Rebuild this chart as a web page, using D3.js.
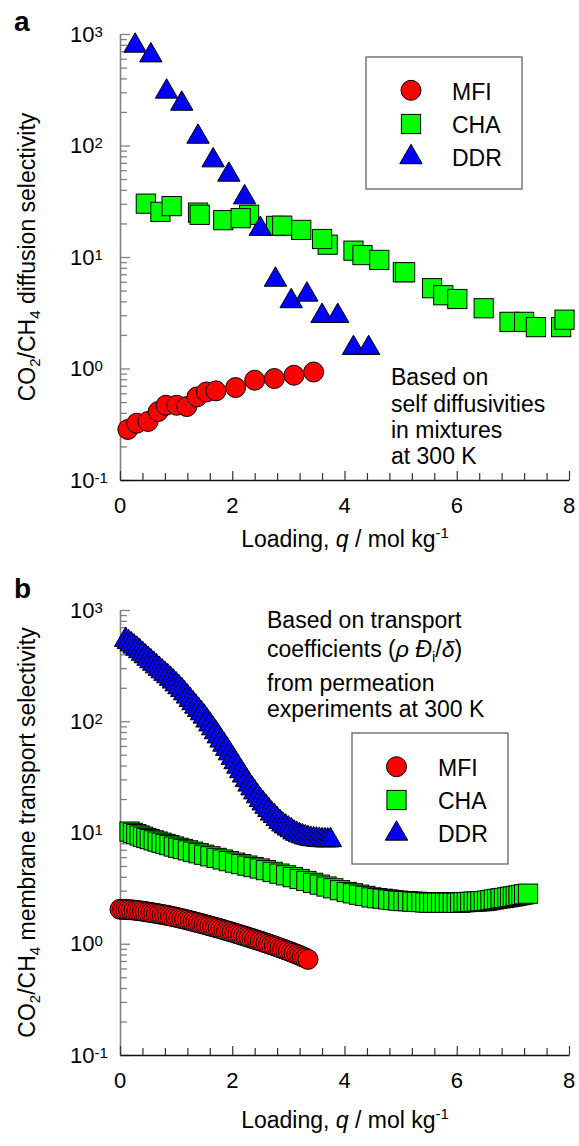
<!DOCTYPE html>
<html><head><meta charset="utf-8">
<script src="https://cdn.jsdelivr.net/npm/d3@7"></script>
<style>
body{margin:0;background:#fff}
svg{display:block}
text{font-family:"Liberation Sans",Arial,Helvetica,sans-serif;fill:#000}
</style>
</head><body>
<svg id="c" width="579" height="1146"></svg>
<script>
// ---------- Panel a data (self diffusivities in mixtures) ----------
const aMfiQ = [0.14,0.30,0.50,0.68,0.82,1.01,1.19,1.37,1.54,1.71,2.06,2.40,2.75,3.10,3.45];
const aMfiS = [0.284,0.323,0.335,0.411,0.468,0.468,0.456,0.556,0.616,0.630,0.675,0.785,0.813,0.870,0.930];
const aChaQ = [0.46,0.72,0.92,1.39,1.42,1.84,2.30,2.15,2.78,2.89,3.23,3.70,3.60,4.16,4.32,4.62,5.04,5.08,5.56,5.76,6.01,6.48,6.94,7.20,7.41,7.86,7.92];
const aChaS = [30.1,25.4,28.6,25.0,23.9,21.4,23.9,22.3,19.0,19.1,17.5,12.9,14.5,11.4,10.4,9.42,7.3,7.3,5.25,4.54,4.2,3.47,2.62,2.62,2.35,2.35,2.74];
const aDdrQ = [0.27,0.55,0.83,1.10,1.39,1.66,1.94,2.22,2.50,2.77,3.05,3.33,3.60,3.88,4.16,4.43];
const aDdrS = [839,687,325,253,128,78.6,58.5,36.6,19.1,6.68,4.29,4.91,3.16,3.16,1.63,1.63];

// ---------- Panel b data (membrane transport) ----------
const bMfiQ = [0.00,0.05,0.10,0.15,0.20,0.25,0.30,0.35,0.40,0.45,0.50,0.55,0.60,0.65,0.70,0.75,0.80,0.85,0.90,0.95,
1.00,1.05,1.10,1.15,1.20,1.25,1.30,1.35,1.40,1.45,1.50,1.55,1.60,1.65,1.70,1.75,1.80,1.85,1.90,1.95,
2.00,2.05,2.10,2.15,2.20,2.25,2.30,2.35,2.40,2.45,2.50,2.55,2.60,2.65,2.70,2.75,2.80,2.85,2.90,2.95,
3.00,3.05,3.10,3.15,3.20,3.25,3.30,3.35];
const bMfiS = [2.042,2.037,2.032,2.025,2.018,2.006,1.995,1.979,1.963,1.945,
1.928,1.910,1.892,1.873,1.854,1.835,1.816,1.795,1.774,1.752,
1.730,1.706,1.683,1.660,1.637,1.613,1.589,1.565,1.542,1.519,
1.496,1.472,1.449,1.426,1.403,1.380,1.358,1.335,1.312,1.290,
1.268,1.246,1.225,1.202,1.180,1.159,1.138,1.117,1.096,1.076,
1.057,1.036,1.016,0.997,0.977,0.957,0.938,0.918,0.899,0.880,
0.861,0.841,0.822,0.804,0.785,0.766,0.746,0.724];
const bChaQ = [0.17,0.23,0.29,0.35,0.41,0.47,0.53,0.60,0.67,0.74,
0.81,0.88,0.96,1.04,1.12,1.21,1.30,1.40,1.50,1.61,
1.72,1.83,1.94,2.05,2.16,2.27,2.38,2.49,2.60,2.72,
2.84,2.96,3.08,3.20,3.32,3.44,3.56,3.68,3.80,3.92,
4.04,4.15,4.26,4.37,4.48,4.58,4.68,4.78,4.87,4.96,
5.05,5.13,5.21,5.29,5.37,5.44,5.51,5.58,5.65,5.72,
5.79,5.86,5.93,6.00,6.06,6.12,6.18,6.24,6.30,6.36,
6.42,6.48,6.54,6.60,6.66,6.72,6.78,6.84,6.90,6.95,
7.00,7.05,7.10,7.15,7.20,7.27];
const bChaS = [10.19,9.92,9.66,9.41,9.17,8.93,8.72,8.50,8.29,8.09,
7.89,7.70,7.48,7.29,7.11,6.91,6.72,6.51,6.31,6.11,
5.91,5.72,5.53,5.36,5.20,5.04,4.89,4.75,4.59,4.43,
4.27,4.12,3.97,3.82,3.67,3.53,3.40,3.27,3.15,3.03,
2.92,2.84,2.76,2.69,2.61,2.57,2.54,2.50,2.47,2.44,
2.42,2.41,2.39,2.38,2.37,2.35,2.34,2.34,2.34,2.34,
2.34,2.34,2.34,2.33,2.34,2.36,2.37,2.38,2.39,2.40,
2.41,2.42,2.44,2.47,2.50,2.53,2.56,2.58,2.61,2.64,
2.66,2.69,2.72,2.75,2.78,2.82];
const bDdrQ = [0.10,0.15,0.20,0.25,0.30,0.35,0.40,0.45,0.50,0.55,0.60,0.65,0.70,0.75,0.80,0.85,0.90,0.95,
1.00,1.05,1.10,1.15,1.20,1.25,1.30,1.35,1.40,1.45,1.50,1.55,1.60,1.65,1.70,1.75,1.80,1.85,1.90,1.95,
2.00,2.05,2.10,2.15,2.20,2.25,2.30,2.35,2.40,2.45,2.50,2.55,2.60,2.65,2.70,2.75,2.80,2.85,2.90,2.95,
3.00,3.05,3.10,3.15,3.20,3.25,3.30,3.35,3.40,3.45,3.50,3.55,3.60,3.65,3.70,3.75];
const bDdrS = [575,550,525,501,479,455,431.5,410,389,369.5,
351,333,316,300,285,271,257,243,229,216,
204,190.5,178,166,155,144.5,135,126,117.5,108.4,
100,92.3,85.1,78.1,71.6,65.7,60.3,55.0,50.1,45.7,
41.7,38.0,34.7,31.6,28.8,26.6,24.5,22.6,20.9,19.5,
18.2,17.0,15.8,15.0,14.1,13.3,12.6,12.1,11.6,11.2,
10.7,10.4,10.1,9.89,9.66,9.52,9.38,9.30,9.23,9.17,
9.12,9.10,9.08,9.12];

// ---------- Axis ticks / labels ----------
const xMajor = [0,2,4,6,8];
const xMinor = [0.4,0.8,1.2,1.6,2.4,2.8,3.2,3.6,4.4,4.8,5.2,5.6,6.4,6.8,7.2,7.6];
const yMajor = [0.1,1,10,100,1000];
const yExp = ["-1","0","1","2","3"];
const seriesNames = ["MFI","CHA","DDR"];
const seriesFill = ["#ff0000","#00ff00","#0000ff"];

const svg = d3.select("#c");
const x = d3.scaleLinear().domain([0,8]).range([120,569]);
const yA = d3.scaleLog().domain([0.1,1000]).range([480,34]);
const yB = d3.scaleLog().domain([0.1,1000]).range([1055,610]);

function drawMarker(g, type, cx, cy) {
  if (type === 0) {
    g.append("circle").attr("cx",cx).attr("cy",cy).attr("r",10)
      .attr("fill",seriesFill[0]).attr("stroke","#000").attr("stroke-width",1);
  } else if (type === 1) {
    g.append("rect").attr("x",cx-9.6).attr("y",cy-9.6).attr("width",19.2).attr("height",19.2)
      .attr("fill",seriesFill[1]).attr("stroke","#000").attr("stroke-width",1);
  } else {
    const w=22.4, h=19.4;
    g.append("path").attr("d",`M${cx},${cy-h/2}L${cx+w/2},${cy+h/2}L${cx-w/2},${cy+h/2}Z`)
      .attr("fill",seriesFill[2]).attr("stroke","#000").attr("stroke-width",1).attr("stroke-linejoin","miter");
  }
}

function drawAxes(y, titleParts, titleY) {
  const g = svg.append("g");
  const x0 = x(0), yBottom = y.range()[0];
  // y axis minor ticks
  const minors = y.ticks().filter(v => !yMajor.some(m => Math.abs(m - v) < 1e-9));
  const yMin = g.append("g").attr("transform",`translate(${x0},0)`)
    .call(d3.axisLeft(y).tickValues(minors).tickSize(-7).tickSizeOuter(0).tickFormat(""));
  const yMaj = g.append("g").attr("transform",`translate(${x0},0)`)
    .call(d3.axisLeft(y).tickValues(yMajor).tickSize(-10).tickSizeOuter(0).tickFormat(""));
  yMaj.select(".domain").remove();
  [yMin,yMaj].forEach(a => {
    a.selectAll("line").attr("stroke","#808080").attr("stroke-width",1.3);
    a.selectAll(".domain").attr("stroke","#808080").attr("stroke-width",1.6);
  });
  // x axis
  const xMin = g.append("g").attr("transform",`translate(0,${yBottom})`)
    .call(d3.axisBottom(x).tickValues(xMinor).tickSize(-7).tickSizeOuter(0).tickFormat(""));
  const xMaj = g.append("g").attr("transform",`translate(0,${yBottom})`)
    .call(d3.axisBottom(x).tickValues(xMajor).tickSize(-9).tickSizeOuter(0).tickFormat(""));
  xMaj.select(".domain").remove();
  [xMin,xMaj].forEach(a => {
    a.selectAll("line").attr("stroke","#333").attr("stroke-width",1.2);
    a.selectAll(".domain").attr("stroke","#111").attr("stroke-width",1.3);
  });
  // y labels
  yMajor.forEach((v,i) => {
    const t = g.append("text").attr("x",70).attr("y",y(v)+7.5).attr("font-size",22);
    t.append("tspan").text("10");
    t.append("tspan").attr("font-size",15).attr("dy",-5).text(yExp[i]);
  });
  // x labels
  xMajor.forEach(v => {
    g.append("text").attr("x",x(v)).attr("y",yBottom+33).attr("font-size",22)
      .attr("text-anchor","middle").text(v);
  });
  // x title
  const xt = g.append("text").attr("x",345).attr("y",titleY).attr("font-size",23).attr("text-anchor","middle");
  xt.append("tspan").text("Loading, ");
  xt.append("tspan").attr("font-style","italic").text("q");
  xt.append("tspan").text(" / mol kg");
  xt.append("tspan").attr("font-size",15).attr("dy",-9).text("-1");
  // y title
  const yc = (y.range()[0] + y.range()[1]) / 2;
  const yt = g.append("text").attr("transform",`translate(35,${yc}) rotate(-90)`)
    .attr("font-size",23).attr("text-anchor","middle");
  yt.append("tspan").text("CO");
  yt.append("tspan").attr("font-size",15).attr("dy",5).text("2");
  yt.append("tspan").attr("dy",-5).text("/CH");
  yt.append("tspan").attr("font-size",15).attr("dy",5).text("4");
  yt.append("tspan").attr("dy",-5).text(titleParts);
}

function drawLegend(bx, by, bw, bh, mx, tx, my, ty) {
  const g = svg.append("g");
  g.append("rect").attr("x",bx).attr("y",by).attr("width",bw).attr("height",bh)
    .attr("fill","#fff").attr("stroke","#555").attr("stroke-width",1.2);
  seriesNames.forEach((n,i) => {
    drawMarker(g, i, mx, my[i]);
    g.append("text").attr("x",tx).attr("y",ty[i]).attr("font-size",23).text(n);
  });
}

// ---------- Panel a ----------
drawAxes(yA, " diffusion selectivity", 547);
const ga = svg.append("g");
aMfiQ.forEach((q,i) => drawMarker(ga, 0, x(q), yA(aMfiS[i])));
aChaQ.forEach((q,i) => drawMarker(ga, 1, x(q), yA(aChaS[i])));
aDdrQ.forEach((q,i) => drawMarker(ga, 2, x(q), yA(aDdrS[i])));
drawLegend(366, 57, 156, 132, 411, 452, [90.3,124,154], [100,132.5,165.5]);
svg.append("text").attr("x",14).attr("y",31).attr("font-size",28).attr("font-weight","bold").text("a");
const annA = ["Based on","self diffusivities","in mixtures","at 300 K"];
const annAy = [385,411.5,437.5,464];
annA.forEach((s,i) => svg.append("text").attr("x",391).attr("y",annAy[i]).attr("font-size",23).text(s));

// ---------- Panel b ----------
drawAxes(yB, " membrane transport selectivity", 1128);
const gb = svg.append("g");
bMfiQ.forEach((q,i) => drawMarker(gb, 0, x(q), yB(bMfiS[i])));
bChaQ.forEach((q,i) => drawMarker(gb, 1, x(q), yB(bChaS[i])));
bDdrQ.forEach((q,i) => drawMarker(gb, 2, x(q), yB(bDdrS[i])));
drawLegend(352, 733, 156, 131, 396.5, 438, [766.7,800,830.5], [776,809.3,841.7]);
svg.append("text").attr("x",14).attr("y",598).attr("font-size",28).attr("font-weight","bold").text("b");
const annB = svg.append("g");
annB.append("text").attr("x",267).attr("y",628).attr("font-size",23).text("Based on transport");
const l2 = annB.append("text").attr("x",267).attr("y",657).attr("font-size",23);
l2.append("tspan").text("coefficients (");
l2.append("tspan").attr("font-style","italic").text("ρ Đ");
l2.append("tspan").attr("font-size",15).attr("dy",5).text("i");
l2.append("tspan").attr("dy",-5).text("/");
l2.append("tspan").attr("font-style","italic").text("δ");
l2.append("tspan").text(")");
annB.append("text").attr("x",267).attr("y",691).attr("font-size",23).text("from permeation");
annB.append("text").attr("x",267).attr("y",717).attr("font-size",23).text("experiments at 300 K");
</script>
</body></html>
